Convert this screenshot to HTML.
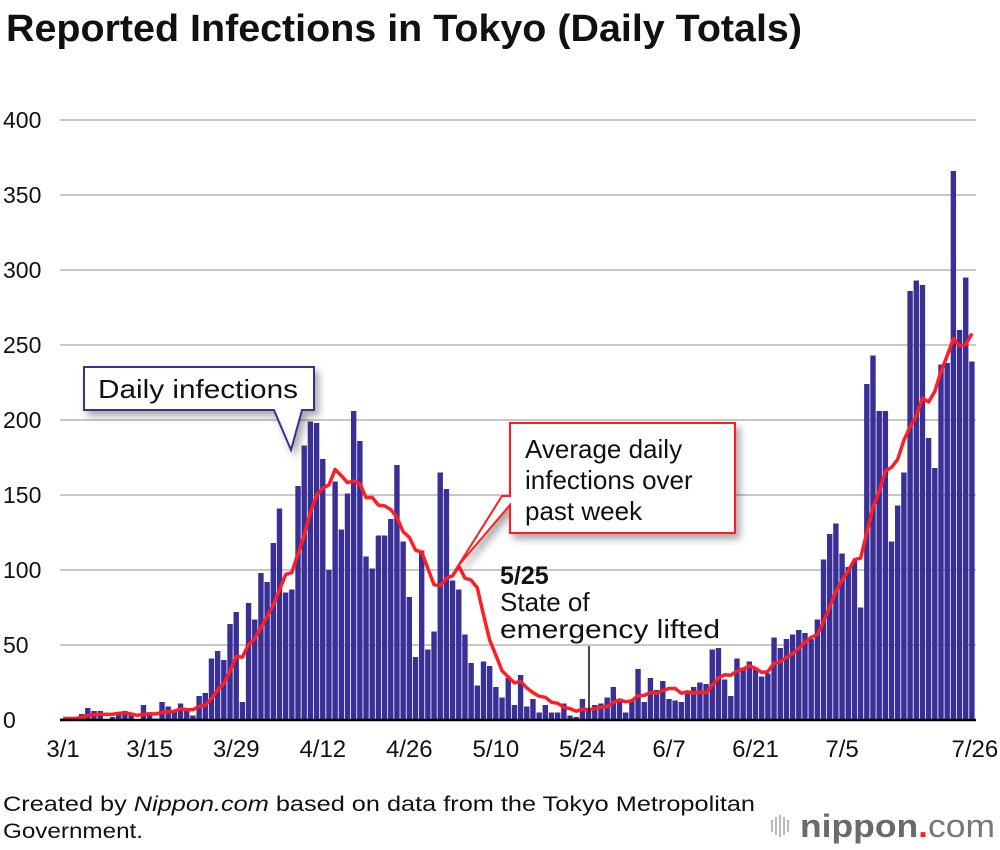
<!DOCTYPE html>
<html><head><meta charset="utf-8">
<style>
body{margin:0;background:#fff;font-family:"Liberation Sans",sans-serif;}
#wrap{position:relative;width:1000px;height:850px;overflow:hidden;}
</style></head>
<body>
<div id="wrap">
<svg id="chart" width="1000" height="850" style="position:absolute;left:0;top:0">
  <defs>
    <filter id="sh" x="-20%" y="-20%" width="150%" height="160%"><feDropShadow dx="4" dy="5" stdDeviation="4" flood-color="#000" flood-opacity="0.35"/></filter>
  </defs>
  <text x="6" y="41" font-size="38" font-weight="bold" fill="#111" textLength="796" lengthAdjust="spacingAndGlyphs">Reported Infections in Tokyo (Daily Totals)</text>
  <g id="grid"></g>
  <g id="ylabels"></g>
  <g id="bars"></g>
  <path id="avgline" fill="none" stroke="#ff1e24" stroke-width="3.5" stroke-linejoin="round"/>
  <line x1="60" y1="720" x2="976" y2="720" stroke="#000" stroke-width="2.5"/>
  <g id="xlabels"></g>

  <g>
    <g filter="url(#sh)">
      <path d="M84,367 H314 V410 H302 L291,450 L274,410 H84 Z" fill="#fff" stroke="#3a2f96" stroke-width="2"/>
    </g>
    <text x="98" y="398" font-size="26" fill="#111" textLength="200" lengthAdjust="spacingAndGlyphs">Daily infections</text>
  </g>
  <g>
    <g filter="url(#sh)">
      <path d="M510,423 H735 V533 H510 V505 L458,566 L502,496 L510,496 Z" fill="#fff" stroke="#ff1e24" stroke-width="2"/>
    </g>
    <text x="525" y="458" font-size="26" fill="#111">Average daily</text>
    <text x="525" y="489" font-size="26" fill="#111">infections over</text>
    <text x="525" y="520" font-size="26" fill="#111">past week</text>
  </g>
  <g>
    <text x="500" y="584" font-size="25" font-weight="bold" fill="#111">5/25</text>
    <text x="500" y="611" font-size="26" fill="#111">State of</text>
    <text x="500" y="638" font-size="26" fill="#111" textLength="220" lengthAdjust="spacingAndGlyphs">emergency lifted</text>
    <line x1="589" y1="646" x2="589" y2="712" stroke="#111" stroke-width="1.5"/>
  </g>
  <text x="3" y="811" font-size="21" fill="#111" textLength="752" lengthAdjust="spacingAndGlyphs">Created by <tspan font-style="italic">Nippon.com</tspan> based on data from the Tokyo Metropolitan</text>
  <text x="3" y="838" font-size="21" fill="#111" textLength="140" lengthAdjust="spacingAndGlyphs">Government.</text>
  <g>
    <g fill="#bbb">
      <rect x="771" y="820" width="2" height="12"/><rect x="775" y="817" width="2" height="18"/><rect x="779" y="815" width="2" height="22"/><rect x="783" y="817" width="2" height="18"/><rect x="787" y="820" width="2" height="12"/>
    </g>
    <text x="800" y="837" font-size="32" font-weight="bold" fill="#6a6a6a" textLength="195" lengthAdjust="spacingAndGlyphs">nippon<tspan fill="#ff1e24">.</tspan><tspan font-weight="normal" fill="#777">com</tspan></text>
  </g>
</svg>
</div>
<script>
const dayLabels = ["3/1","3/15","3/29","4/12","4/26","5/10","5/24","6/7","6/21","7/5","7/26"];
const dayLabelIdx = [0,14,28,42,56,70,84,98,112,126,147];
const yTicks = [0,50,100,150,200,250,300,350,400];
const dailyCases = [
 1,1,1,4,8,6,6,0,2,5,6,3,0,10,3,1,12,9,6,11,6,3,16,18,41,46,40,64,72,12,
 78,67,98,92,118,141,85,87,156,183,199,198,174,100,159,127,151,206,186,109,101,123,123,134,170,119,82,42,113,47,
 59,165,154,93,87,57,38,23,39,36,22,15,28,10,30,9,14,5,10,5,5,11,3,2,14,8,10,11,15,22,
 14,5,13,34,12,28,20,26,14,13,12,18,22,25,24,47,48,27,16,41,35,39,35,29,31,55,48,54,57,60,
 58,54,67,107,124,131,111,102,106,75,224,243,206,206,119,143,165,286,293,290,188,168,237,238,366,260,295,239
];
const NS='http://www.w3.org/2000/svg';
const X0=60, STEP=915/148, Y0=720, YS=1.5;
function xC(i){return X0+STEP*(i+0.5);}
function yV(v){return Y0-v*YS;}
const grid=document.getElementById('grid'), yl=document.getElementById('ylabels');
yTicks.forEach(t=>{
  if(t>0){
    const l=document.createElementNS(NS,'line');
    l.setAttribute('x1',60);l.setAttribute('x2',976);
    l.setAttribute('y1',yV(t));l.setAttribute('y2',yV(t));
    l.setAttribute('stroke','#c8c8c8');l.setAttribute('stroke-width','2');
    
    
    grid.appendChild(l);
  }
  const tx=document.createElementNS(NS,'text');
  tx.setAttribute('x',3);tx.setAttribute('y',yV(t)+8);
  tx.setAttribute('font-size','23');tx.setAttribute('fill','#111');
  tx.textContent=t;
  
  
  yl.appendChild(tx);
});
const bars=document.getElementById('bars');
dailyCases.forEach((v,i)=>{
  const r=document.createElementNS(NS,'rect');
  r.setAttribute('x',(xC(i)-2.7).toFixed(2));
  r.setAttribute('width','5.4');
  r.setAttribute('y',yV(v));
  r.setAttribute('height',v*YS);
  r.setAttribute('fill','#3a2f96');
  
  
  bars.appendChild(r);
});
let d='';
dailyCases.forEach((v,i)=>{
  const s=Math.max(0,i-6); let sum=0;
  for(let k=s;k<=i;k++) sum+=dailyCases[k];
  const a=sum/(i-s+1);
  d+=(i?'L':'M')+xC(i).toFixed(1)+','+yV(a).toFixed(1);
});
document.getElementById('avgline').setAttribute('d',d);
const xl=document.getElementById('xlabels');
dayLabels.forEach((lab,j)=>{
  const tx=document.createElementNS(NS,'text');
  let x=xC(dayLabelIdx[j]);
  if(j===dayLabels.length-1) x+=3;
  tx.setAttribute('x',x.toFixed(1));tx.setAttribute('y',757);
  tx.setAttribute('text-anchor','middle');
  tx.setAttribute('font-size','24');tx.setAttribute('fill','#111');
  tx.textContent=lab;
  
  
  xl.appendChild(tx);
});
</script>
</body></html>
